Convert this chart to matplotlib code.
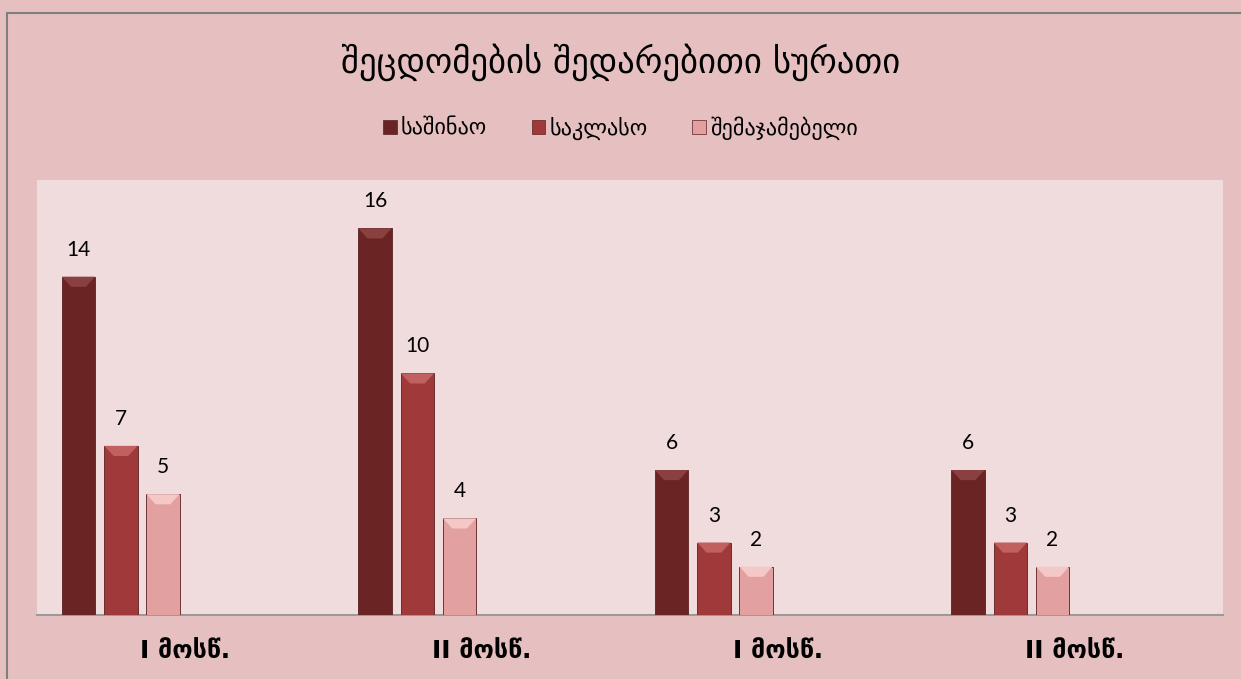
import matplotlib.pyplot as plt
from matplotlib.patches import Polygon, Rectangle
import numpy as np

plt.rcParams['font.family'] = ['DejaVu Sans']

# --- data ---
categories = ['I მოსწ.', 'II მოსწ.', 'I მოსწ.', 'II მოსწ.']
series_names = ['საშინაო', 'საკლასო', 'შემაჯამებელი']
home = [14, 16, 6, 6]
classwork = [7, 10, 3, 3]
summary = [5, 4, 2, 2]
colors = ['#6b2424', '#a03a3a', '#e2a0a0']
bevel_colors = ['#8a4040', '#c06060', '#f5c8c8']

fig = plt.figure(figsize=(12.41, 6.79), dpi=100)
fig.patch.set_facecolor('#e6c0c0')

# outer frame (only top/left visible in the reference)
fig.patches.append(Rectangle((7 / 1241, -0.05), 1.2, 1 - 13 / 679 + 0.05,
                             transform=fig.transFigure, fill=False,
                             edgecolor='#7f7f7f', linewidth=1.5))

ax = fig.add_axes([37 / 1241, 64 / 679, 1186 / 1241, 435 / 679])
ax.set_facecolor('#f0dcdc')

x = np.arange(len(categories))
offsets = [-0.36, -0.217, -0.075]
width = 0.112
for vals, off, col, bcol in zip([home, classwork, summary], offsets, colors, bevel_colors):
    bars = ax.bar(x + off, vals, width, color=col, edgecolor='#5a2020',
                  linewidth=0.6, zorder=3)
    for b, v in zip(bars, vals):
        bx, bw, bh = b.get_x(), b.get_width(), b.get_height()
        # small bevel at the top of each bar
        ax.add_patch(Polygon([(bx, bh), (bx + bw, bh), (bx + bw * 0.72, bh - 0.42),
                              (bx + bw * 0.28, bh - 0.42)],
                             closed=True, facecolor=bcol, edgecolor='none', zorder=4))
        ax.text(bx + bw / 2, bh + 0.7, str(v), ha='center', va='bottom',
                fontsize=15, family=['Lato', 'DejaVu Sans'], zorder=5)

ax.set_xlim(-0.5, len(categories) - 0.5)
ax.set_ylim(0, 18)
ax.set_yticks([])
ax.set_xticks(x)
ax.set_xticklabels(categories, fontsize=18, fontweight='bold')
ax.tick_params(axis='x', length=0, pad=17)
for s in ['top', 'left', 'right']:
    ax.spines[s].set_visible(False)
ax.spines['bottom'].set_color('#9a9a9a')
ax.spines['bottom'].set_linewidth(1.5)

fig.text(0.5, 1 - 62 / 679, 'შეცდომების შედარებითი სურათი', ha='center', va='center',
         fontsize=25)

handles = [Rectangle((0, 0), 1, 1, facecolor=c, edgecolor='#5a2020', linewidth=0.5)
           for c in colors]
fig.legend(handles, series_names, loc='center', bbox_to_anchor=(0.5, 1 - 128 / 679),
           ncol=3, frameon=False, fontsize=16, handlelength=0.6, handleheight=0.6,
           handletextpad=0.2, columnspacing=2.0)

fig.savefig('out.png', dpi=100, facecolor=fig.get_facecolor())
